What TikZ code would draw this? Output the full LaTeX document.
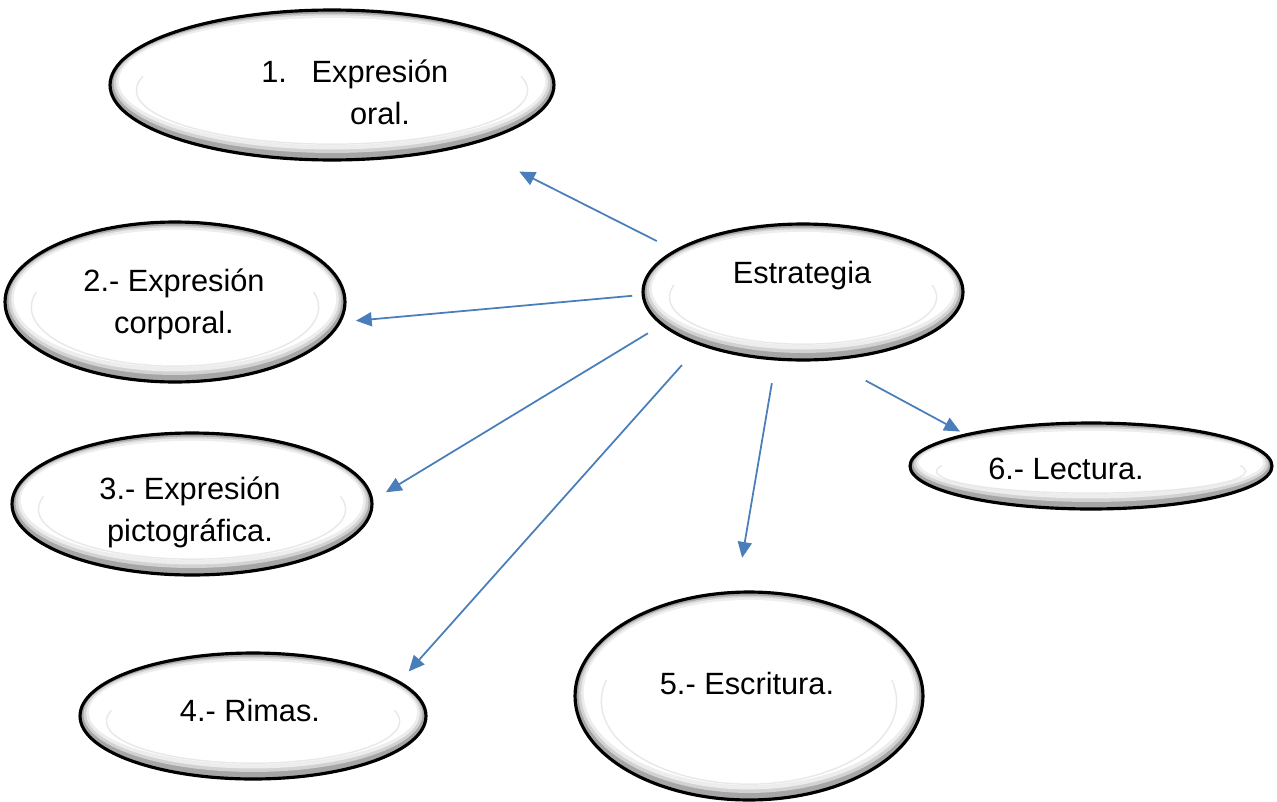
\documentclass[tikz,border=0pt]{standalone}
\usepackage{fontspec}
\setmainfont{Liberation Sans}
\usetikzlibrary{shapes.geometric,arrows.meta,calc}
\definecolor{linkblue}{HTML}{4A7EBB}
\begin{document}
\begin{tikzpicture}[x=0.02cm,y=-0.02cm,
    blob/.style={ellipse,draw=black,line width=1.8pt,inner sep=0pt,outer sep=0pt,
      path picture={
        \path (path picture bounding box.north east) coordinate (ne) (path picture bounding box.center) coordinate (pc);
        \fill[gray!70] let \p1=($(ne)-(pc)$) in (pc) ellipse [x radius=\x1,y radius=\y1];
        \fill[gray!35] let \p1=($(ne)-(pc)$) in ([yshift=1pt]pc) ellipse [x radius=\x1-2pt,y radius=\y1-3pt];
        \fill[gray!14] let \p1=($(ne)-(pc)$) in ([yshift=1.5pt]pc) ellipse [x radius=\x1-3.5pt,y radius=\y1-4.5pt];
        \fill[white] let \p1=($(ne)-(pc)$) in ([yshift=2pt]pc) ellipse [x radius=\x1-5pt,y radius=\y1-6.5pt];
        \draw[gray!18,line width=0.8pt] let \p1=($(ne)-(pc)$) in ([yshift=-3pt]pc) ++(165:{\x1-15pt} and {\y1-12pt}) arc [start angle=165,end angle=375,x radius=\x1-15pt,y radius=\y1-12pt];
      }},
    lbl/.style={font=\fontsize{17.5}{24}\selectfont,align=center,inner sep=0pt},
    arr/.style={-{Triangle[length=9pt,width=8pt]},linkblue,line width=1pt}]
    \useasboundingbox (0,0) rectangle (1277,801);
    \node[blob,minimum width=8.88cm,minimum height=3cm] (e1) at (332,85) {};
    \node[blob,minimum width=6.8cm,minimum height=3.2cm] (e2) at (175,302) {};
    \node[blob,minimum width=7.2cm,minimum height=2.84cm] (e3) at (192,504) {};
    \node[blob,minimum width=6.92cm,minimum height=2.52cm] (e4) at (253,716) {};
    \node[blob,minimum width=6.96cm,minimum height=4.16cm] (e5) at (749,696) {};
    \node[blob,minimum width=7.24cm,minimum height=1.72cm] (e6) at (1091,466) {};
    \node[blob,minimum width=6.4cm,minimum height=2.72cm] (est) at (803,292) {};
    \node[lbl] (tc) at (802,276) {Estrategia};
    \node[lbl] (t1) at (380,92) {\llap{1.\hspace{14pt}}Expresión\\oral.};
    \node[lbl] (t2) at (174,304) {2.- Expresión\\corporal.};
    \node[lbl] (t3) at (190,512) {3.- Expresión\\pictográfica.};
    \node[lbl] (t4) at (250,710) {4.- Rimas.};
    \node[lbl] (t5) at (747,683) {5.- Escritura.};
    \node[lbl] (t6) at (1066,469) {6.- Lectura.};
    \draw[arr,shorten <=0.43cm,shorten >=1.19cm] (est.162.6) -- (e1.-24.3);
    \draw[arr,shorten <=0.22cm,shorten >=0.33cm] (est.181.1) -- (e2.-7.5);
    \draw[arr,shorten <=0.34cm,shorten >=0.33cm] (est.193.9) -- (e3.1.1);
    \draw[arr,shorten <=0.56cm,shorten >=0.29cm] (est.207.9) -- (e4.13.3);
    \draw[arr,shorten <=0.49cm,shorten >=0.70cm] (est.248.2) -- (e5.97.75);
    \draw[arr,shorten <=0.90cm,shorten >=0.14cm] (est.-71.5) -- (e6.166.4);
\end{tikzpicture}
\end{document}
